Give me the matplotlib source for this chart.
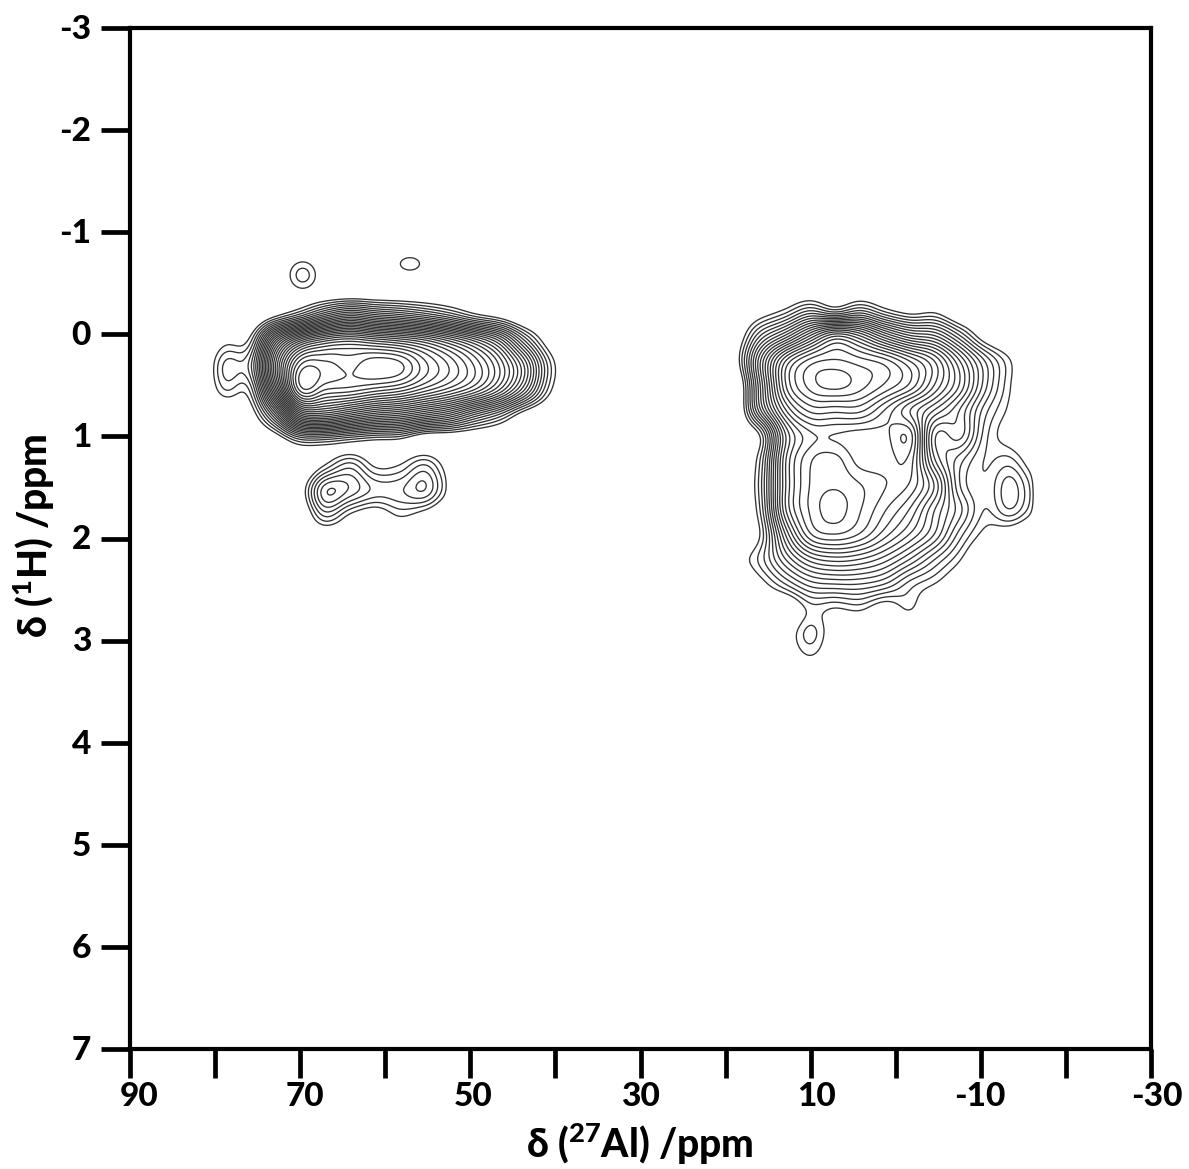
import numpy as np
import matplotlib
matplotlib.use("Agg")
import matplotlib.pyplot as plt

plt.rcParams['font.family'] = ['Lato', 'DejaVu Sans']
plt.rcParams['mathtext.fontset'] = 'custom'
plt.rcParams['mathtext.bf'] = 'Lato:black'
plt.rcParams['mathtext.rm'] = 'Lato:black'

x_ticks = list(range(90, -31, -10))
x_labels = ['90', '', '70', '', '50', '', '30', '', '10', '', '-10', '', '-30']
y_ticks = list(range(-3, 8))
y_labels = ['-3', '-2', '-1', '0', '1', '2', '3', '4', '5', '6', '7']
x_title = r'δ ($\mathbf{^{27}}$Al) /ppm'
y_title = r'δ ($\mathbf{^{1}}$H) /ppm'

# Intensity tables, in contour-level units (0 = outermost contour)
main_x = np.linspace(81.8, 37.7, 16)
main_y = np.linspace(-0.92, 1.53, 11)
main_z = [
 [-3]*16,
 [-3]*16,
 [-3]*16,
 [-3,-3,-3,-0.5,2.5,6.5,9,7.5,6.5,5,3,0.5,-1,-3,-3,-3],
 [-3,-0.5,0.4,13,20,23,24,23,22,20.5,18,15,11,4,-1.5,-3],
 [-3,2.6,3.4,18,28.3,28.6,27.8,29.1,28.6,25.5,23,20,16,10,1.4,-3],
 [-3,1.2,1,15,28.6,27,26.6,25.5,24.5,22.5,20.5,18,14,8,0.4,-3],
 [-3,-3,-1.5,6,17,18,16,14,13,11,9,5.5,2.5,-1.5,-3,-3],
 [-3,-3,-3,-2,1.5,1.5,0.5,-0.3,-0.6,-3,-3,-3,-3,-3,-3,-3],
 [-3]*16,
 [-3]*16,
]

lower_x = np.linspace(70.0, 52.4, 7)
lower_y = np.linspace(1.04, 2.02, 5)
lower_z = [
 [-3,-3,-3,-3,-3,-3,-3],
 [-3,0.2,2.8,-0.2,0.2,2.4,-1.0],
 [-1,6.2,5,2.9,3.0,4.3,-0.2],
 [-2.5,2.5,-0.3,-1.5,0.3,-1.0,-3],
 [-3,-3,-3,-3,-3,-3,-3],
]

right_x = np.linspace(18.9, -16.4, 13)
right_y = np.linspace(-0.48, 3.43, 17)
right_z = [
 [-3]*13,
 [-3,-1.5,0.3,3,1,3,0.5,-1,-0.5,-3,-3,-3,-3],
 [-2,4,8,13,17,15,11,8,7,3,-1.5,-3,-3],
 [-1,9,17,20.5,21.2,20.5,19.5,17,14,9,4,0.2,-3],
 [-3,8,18,21.6,22.6,21.6,20,18,14,10,4.5,0.2,-3],
 [-3,7,15,18.5,18.5,18.5,16,13,10,7,2.5,-0.3,-3],
 [-3,0,11,14.8,15.0,14.5,14.8,15.9,6,6.7,1.5,-1.0,-3],
 [-3,1,12,16,16.6,14.6,14.6,14.8,7,3.5,1,1.5,-1.5],
 [-3,1.5,12,16.2,17.0,16.2,15.2,14,10,3,1.2,3.8,0.5],
 [-3,1,12,16.3,17.6,16.2,14.2,12,8,4.5,1.0,3.2,0.2],
 [-3,0,9,15,16.1,15,12.5,10,7,2.5,-0.5,-1.5,-3],
 [-1,1.5,6,9.5,10.5,10,8.5,6,3,0.2,-3,-3,-3],
 [-3,-0.8,2,4.5,5,5,4,1.5,0,-2,-3,-3,-3],
 [-3,-3,-3,0.5,-0.2,0.3,-1.5,0.3,-3,-3,-3,-3,-3],
 [-3,-3,-1.5,1.7,-1.5,-3,-3,-3,-3,-3,-3,-3,-3],
 [-3,-3,-2,-0.2,-2,-3,-3,-3,-3,-3,-3,-3,-3],
 [-3]*13,
]

# Two small isolated spots above the left block: x, y, height, half widths (ppm)
spot_x = [69.7, 57.1]
spot_y = [-0.58, -0.69]
spot_h = [1.5, 0.5]
spot_rx = [1.55, 1.3]
spot_ry = [0.135, 0.07]

n_levels = 30
smooth_px = 3.5
cell_px = 25


def cubic_up(a, n):
    """Catmull-Rom upsampling along axis 0 by n points a cell."""
    m = a.shape[0]
    t = np.arange((m-1)*n+1)/n
    i = np.clip(t.astype(int), 0, m-2)
    u = (t-i)[(...,) + (None,)*(a.ndim-1)]
    p0, p1 = a[np.clip(i-1, 0, m-1)], a[i]
    p2, p3 = a[i+1], a[np.clip(i+2, 0, m-1)]
    return 0.5*(2*p1+(p2-p0)*u+(2*p0-5*p1+4*p2-p3)*u**2+(3*p1-p0-3*p2+p3)*u**3)


def field(tx, ty, tz):
    tz = np.asarray(tz, float)
    b = cubic_up(cubic_up(tz, cell_px).T, cell_px).T
    fx = np.linspace(tx[0], tx[-1], b.shape[1])
    fy = np.linspace(ty[0], ty[-1], b.shape[0])
    r = np.arange(-int(3*smooth_px), int(3*smooth_px)+1)
    k = np.exp(-0.5*(r/smooth_px)**2)
    k /= k.sum()
    pad = len(r)
    b = np.pad(b, pad, constant_values=-3.0)
    b = np.apply_along_axis(lambda v: np.convolve(v, k, mode='same'), 0, b)
    b = np.apply_along_axis(lambda v: np.convolve(v, k, mode='same'), 1, b)
    return fx, fy, b[pad:-pad, pad:-pad]


fig = plt.figure(figsize=(11.89, 11.69), dpi=100)
ax = fig.add_axes([130/1189, 1-1049/1169, (1151-130)/1189, (1049-28)/1169])

levels = np.arange(n_levels)+0.13
style = dict(levels=levels, colors='#333333', linewidths=0.95)
for t in [(main_x, main_y, main_z), (lower_x, lower_y, lower_z), (right_x, right_y, right_z)]:
    fx, fy, fz = field(*t)
    ax.contour(fx, fy, fz, **style)

for sx, sy, h, rx, ry in zip(spot_x, spot_y, spot_h, spot_rx, spot_ry):
    gx = np.linspace(sx+2*rx, sx-2*rx, 120)
    gy = np.linspace(sy-2*ry, sy+2*ry, 120)
    GX, GY = np.meshgrid(gx, gy)
    ax.contour(GX, GY, h*(1-((GX-sx)/rx)**2-((GY-sy)/ry)**2), **style)

ax.set_xlim(90, -30)
ax.set_ylim(7, -3)
for s in ax.spines.values():
    s.set_linewidth(3.0)
ax.set_xticks(x_ticks)
ax.set_xticklabels([])
ax.set_yticks(y_ticks)
ax.set_yticklabels([])
ax.tick_params(length=21, width=3.4, direction='out', top=False, right=False)

label_shift_px = [9, 0, 5, 0, 3, 0, 0, 0, 6, 0, -1, 0, 6]
for v, t, d in zip(x_ticks, x_labels, label_shift_px):
    if t:
        ax.annotate(t, (v, 7), xytext=(d*0.72, -34), textcoords='offset points', ha='center',
                    va='center', fontsize=24, fontweight='black')
for v, t in zip(y_ticks, y_labels):
    ax.annotate(t, (90, v), xytext=(-28, -1), textcoords='offset points', ha='right',
                va='center', fontsize=24, fontweight='black')
fig.text(640/1189, 1-1143/1169, x_title, ha='center', va='center', fontsize=28, fontweight='black')
fig.text(33/1189, 1-536/1169, y_title, ha='center', va='center', rotation=90, fontsize=28, fontweight='black')
fig.savefig('out.png', dpi=100, facecolor='white')
